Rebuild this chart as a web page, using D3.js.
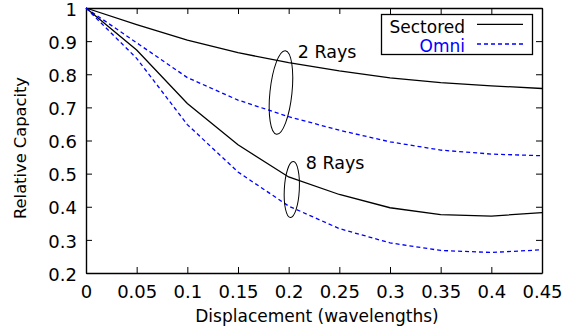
<!DOCTYPE html>
<html>
<head>
<meta charset="utf-8">
<script src="https://cdn.jsdelivr.net/npm/d3@7"></script>
<style>
  body { margin: 0; background: #fff; }
  text { font-family: "DejaVu Sans", sans-serif; }
</style>
</head>
<body>
<div id="chart"></div>
<script>
// displacement values (wavelengths)
const displacement = [0, 0.05, 0.1, 0.15, 0.2, 0.25, 0.3, 0.35, 0.4, 0.45];

const sectored2 = [1, 0.95, 0.903, 0.865, 0.835, 0.81, 0.789, 0.775, 0.765, 0.757];
const omni2     = [1, 0.895, 0.79, 0.722, 0.672, 0.631, 0.596, 0.571, 0.559, 0.554];
const sectored8 = [1, 0.873, 0.712, 0.587, 0.49, 0.437, 0.397, 0.376, 0.372, 0.382];
const omni8     = [1, 0.848, 0.648, 0.505, 0.402, 0.334, 0.291, 0.268, 0.262, 0.27];

const xTicks = [0, 0.05, 0.1, 0.15, 0.2, 0.25, 0.3, 0.35, 0.4, 0.45];
const yTicks = [0.2, 0.3, 0.4, 0.5, 0.6, 0.7, 0.8, 0.9, 1];

const width = 572, height = 335;
const margin = {top: 8, right: 30, bottom: 62, left: 86};

const svg = d3.select('#chart').append('svg')
    .attr('width', width)
    .attr('height', height);

const x = d3.scaleLinear().domain([0, 0.45]).range([margin.left, width - margin.right]);
const y = d3.scaleLinear().domain([0.2, 1]).range([height - margin.bottom, margin.top]);

const fs = 18;

// axes with inward ticks
const tickLen = 6;
svg.append('g')
    .attr('transform', `translate(0,${y(0.2)})`)
    .call(d3.axisBottom(x).tickValues(xTicks).tickSizeInner(-tickLen).tickSizeOuter(0).tickPadding(12)
        .tickFormat(d => d === 0 ? '0' : d3.format('')(+d.toFixed(2))))
    .call(g => g.selectAll('text').attr('font-size', fs).attr('fill', '#000').attr('font-family', null));
svg.append('g')
    .attr('transform', `translate(0,${y(1)})`)
    .call(d3.axisTop(x).tickValues(xTicks).tickSizeInner(-tickLen).tickSizeOuter(0).tickFormat(''));
svg.append('g')
    .attr('transform', `translate(${x(0)},0)`)
    .call(d3.axisLeft(y).tickValues(yTicks).tickSizeInner(-tickLen).tickSizeOuter(0).tickPadding(9)
        .tickFormat(d => d === 1 ? '1' : d3.format('.1f')(d)))
    .call(g => g.selectAll('text').attr('font-size', fs).attr('fill', '#000').attr('font-family', null)
        .attr('dy', '0.4em'));
svg.append('g')
    .attr('transform', `translate(${x(0.45)},0)`)
    .call(d3.axisRight(y).tickValues(yTicks).tickSizeInner(-tickLen).tickSizeOuter(0).tickFormat(''));

svg.selectAll('.domain').attr('stroke', '#000').attr('stroke-width', 1.4);
svg.selectAll('.tick line').attr('stroke', '#000').attr('stroke-width', 1);

// axis titles
svg.append('text')
    .attr('x', 317)
    .attr('y', 322)
    .attr('text-anchor', 'middle')
    .attr('font-size', 17)
    .text('Displacement (wavelengths)');
svg.append('text')
    .attr('transform', `translate(26,148) rotate(-90)`)
    .attr('text-anchor', 'middle')
    .attr('font-size', 16.3)
    .text('Relative Capacity');

// lines
const line = d3.line()
    .x((d, i) => x(displacement[i]))
    .y(d => y(d));

const series = [
    {values: sectored2, color: '#000', dash: null},
    {values: omni2, color: '#0000ff', dash: '4,3'},
    {values: sectored8, color: '#000', dash: null},
    {values: omni8, color: '#0000ff', dash: '4,3'}
];

svg.append('g')
    .selectAll('path')
    .data(series)
    .enter()
    .append('path')
    .attr('d', d => line(d.values))
    .attr('fill', 'none')
    .attr('stroke', d => d.color)
    .attr('stroke-width', 1.3)
    .attr('stroke-dasharray', d => d.dash);

// ellipse annotations grouping each pair of curves
const notes = [
    {cx: 0.1924, cy: 0.745, rx: 11, ry: 42, rot: 6, label: '2 Rays', lx: 0.209, ly: 0.849},
    {cx: 0.2031, cy: 0.452, rx: 7.5, ry: 28, rot: 3, label: '8 Rays', lx: 0.2168, ly: 0.513}
];
notes.forEach(n => {
    svg.append('ellipse')
        .attr('transform', `translate(${x(n.cx)},${y(n.cy)}) rotate(${n.rot})`)
        .attr('rx', n.rx)
        .attr('ry', n.ry)
        .attr('fill', 'none')
        .attr('stroke', '#000')
        .attr('stroke-width', 1);
    svg.append('text')
        .attr('x', x(n.lx))
        .attr('y', y(n.ly))
        .attr('font-size', 17.5)
        .text(n.label);
});

// legend
const legend = svg.append('g');
legend.append('rect')
    .attr('x', 381.5).attr('y', 14.5)
    .attr('width', 151).attr('height', 40)
    .attr('fill', '#fff')
    .attr('stroke', '#000')
    .attr('stroke-width', 1.3);
const legendItems = [
    {name: 'Sectored', color: '#000', dash: null},
    {name: 'Omni', color: '#0000ff', dash: '4,3'}
];
legendItems.forEach((d, i) => {
    const cy = 24.3 + i * 19.7;
    legend.append('text')
        .attr('x', 465).attr('y', cy + 8.2)
        .attr('text-anchor', 'end')
        .attr('font-size', 17)
        .attr('fill', d.color)
        .text(d.name);
    legend.append('line')
        .attr('x1', 477).attr('x2', 523)
        .attr('y1', cy).attr('y2', cy)
        .attr('stroke', d.color)
        .attr('stroke-width', 1.3)
        .attr('stroke-dasharray', d.dash);
});
</script>
</body>
</html>
